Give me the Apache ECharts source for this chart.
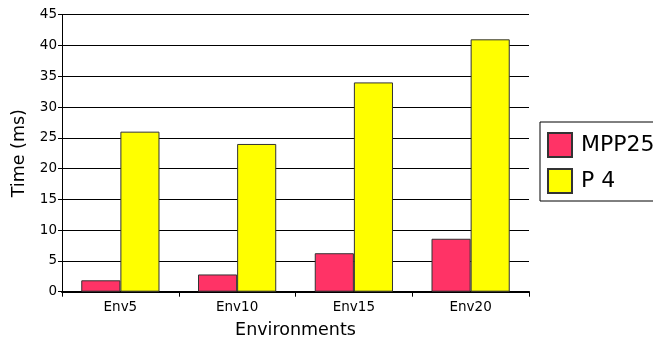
<!DOCTYPE html>
<html>
<head>
<meta charset="utf-8">
<script src="https://cdn.jsdelivr.net/npm/echarts@6/dist/echarts.min.js"></script>
<style>
  html, body { margin: 0; padding: 0; background: #fff; }
  #chart { width: 653px; height: 339px; }
</style>
</head>
<body>
<div id="chart"></div>
<script>
// Timing results per environment size
const categories = ['Env5', 'Env10', 'Env15', 'Env20'];
const mpp25 = [1.85, 2.8, 6.25, 8.6];
const p4 = [26, 24, 34, 41];
const yTicks = [0, 5, 10, 15, 20, 25, 30, 35, 40, 45];

const font = 'DejaVu Sans';
const chart = echarts.init(document.getElementById('chart'), null, { renderer: 'canvas' });

chart.setOption({
  animation: false,
  backgroundColor: '#ffffff',
  grid: {
    left: 62, right: 124, top: 14.7, bottom: 47.3,
    containLabel: false,
    outerBoundsMode: 'none'
  },
  legend: {
    orient: 'vertical',
    left: 540,
    top: 122,
    padding: [10, 10, 7, 7],
    itemGap: 10,
    itemWidth: 24,
    itemHeight: 24,
    borderColor: '#000',
    borderWidth: 1,
    backgroundColor: '#fff',
    icon: 'rect',
    textStyle: { fontFamily: font, fontSize: 22, color: '#000', padding: [0, 0, 0, 4] },
    data: ['MPP25', 'P 4']
  },
  xAxis: {
    type: 'category',
    data: categories,
    name: 'Environments',
    nameLocation: 'middle',
    nameGap: 30,
    nameTextStyle: { fontFamily: font, fontSize: 17.5, color: '#000' },
    axisLine: { lineStyle: { color: '#000', width: 2 } },
    axisTick: { show: true, length: 5, lineStyle: { color: '#000' } },
    axisLabel: { fontFamily: font, fontSize: 13.5, color: '#000', margin: 9 }
  },
  yAxis: {
    type: 'value',
    min: yTicks[0],
    max: yTicks[yTicks.length - 1],
    interval: 5,
    name: 'Time (ms)',
    nameLocation: 'middle',
    nameGap: 34,
    nameTextStyle: { fontFamily: font, fontSize: 17.5, color: '#000' },
    axisLine: { show: true, lineStyle: { color: '#000', width: 1 } },
    axisTick: { show: true, length: 4, lineStyle: { color: '#000' } },
    axisLabel: { fontFamily: font, fontSize: 13.5, color: '#000', margin: 5 },
    splitLine: { show: true, lineStyle: { color: '#000', width: 1 } }
  },
  series: [
    {
      name: 'MPP25',
      type: 'bar',
      data: mpp25,
      barGap: '0%',
      barCategoryGap: '33%',
      itemStyle: { color: '#ff3366', borderColor: '#333', borderWidth: 1 }
    },
    {
      name: 'P 4',
      type: 'bar',
      data: p4,
      barGap: '0%',
      barCategoryGap: '33%',
      itemStyle: { color: '#ffff00', borderColor: '#333', borderWidth: 1 }
    }
  ]
});
</script>
</body>
</html>
